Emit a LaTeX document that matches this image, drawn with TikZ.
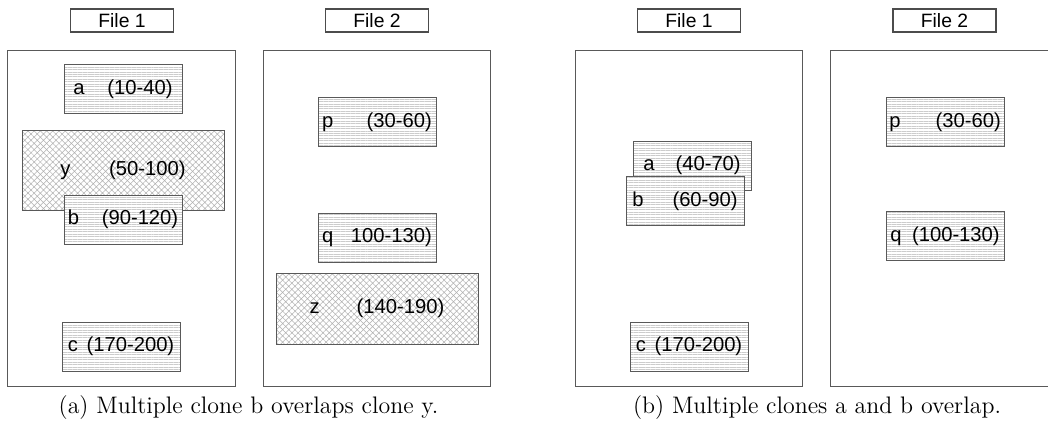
\documentclass[tikz,border=0pt]{standalone}
\usepackage{fontspec}
\setsansfont{Liberation Sans}
\usetikzlibrary{patterns.meta}

\begin{document}
\begin{tikzpicture}[x=0.02cm, y=-0.02cm,
		filebox/.style={draw=black!65, line width=0.6pt, inner sep=0pt, minimum width=4.55cm, minimum height=6.74cm},
		filelabel/.style={draw=black!70, line width=0.6pt, inner sep=0pt, minimum width=2.06cm, minimum height=0.46cm, font=\sffamily\fontsize{11}{13}\selectfont},
		clone/.style={draw=black!65, line width=0.5pt, inner sep=0pt, minimum width=2.36cm, minimum height=0.98cm, preaction={fill=white}, pattern={Lines[angle=0,distance=1.4pt,line width=0.3pt]}, pattern color=black!20, font=\sffamily\fontsize{11.5}{13}\selectfont},
		bigclone/.style={clone, minimum width=4.04cm, pattern={Hatch[angle=45,distance=2.5pt,line width=0.3pt]}, pattern color=black!30},
		caption/.style={anchor=base, font=\fontsize{13.6}{16}\selectfont}]
			\useasboundingbox (0,0) rectangle (1048,426);
			\clip (0,0) rectangle (1048,426);
			% Files
			\foreach \n/\x in {fa1/121.5, fa2/377, fb1/689, fb2/944.5} {
				\node[filebox] (\n) at (\x,218.5) {};
			}
			\foreach \n/\x/\t in {la1/122/File 1, la2/377/File 2, lb1/689/File 1, lb2/944.5/File 2} {
				\node[filelabel] (\n) at (\x,20.5) {\t};
			}
			% Clones (a)
			\node[clone] (a1) at (123,89) {a\hspace{13pt}(10-40)};
			\node[bigclone, minimum height=1.6cm] (y1) at (123,170) {y\hspace{22pt}(50-100)};
			\node[clone] (b1) at (123,219.5) {b\hspace{13pt}(90-120)};
			\node[clone] (c1) at (121,346.5) {c\hspace{5pt}(170-200)};
			\node[clone] (p1) at (377,122) {p\hspace{19pt}(30-60)};
			\node[clone] (q1) at (377,237.5) {q\hspace{10pt}100-130)};
			\node[bigclone, minimum height=1.42cm] (z1) at (377,308.5) {z\hspace{21pt}(140-190)};
			% Clones (b)
			\node[clone] (a2) at (692,165.5) {a\hspace{12pt}(40-70)};
			\node[clone] (b2) at (685,201) {b\hspace{16.5pt}(60-90)};
			\node[clone] (c2) at (689,346.5) {c\hspace{5pt}(170-200)};
			\node[clone] (p2) at (945,122) {p\hspace{20pt}(30-60)};
			\node[clone] (q2) at (945,236) {q\hspace{6pt}(100-130)};
			% Captions
			\node[caption] (capa) at (248.5,413) {(a) Multiple clone b overlaps clone y.};
			\node[caption] (capb) at (817,413) {(b) Multiple clones a and b overlap.};
		\end{tikzpicture}
\end{document}
